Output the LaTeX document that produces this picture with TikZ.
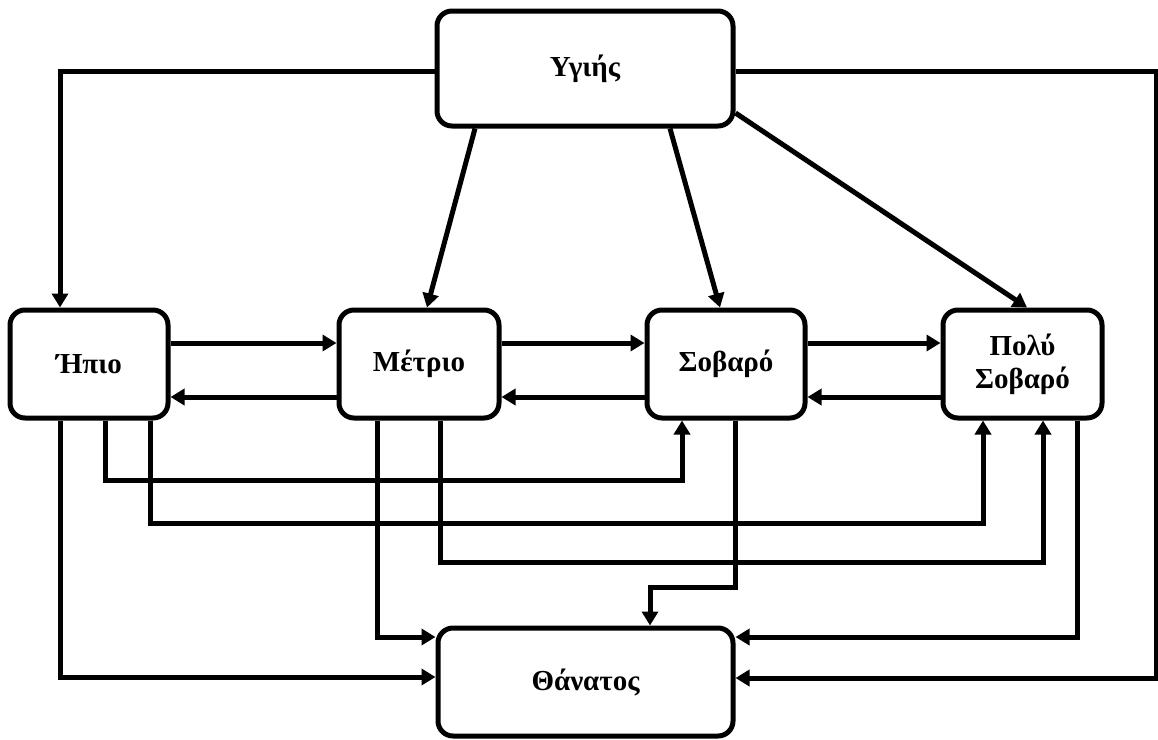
\documentclass[tikz,border=0pt]{standalone}
\usepackage{fontspec}
\setmainfont{Liberation Serif}
\usetikzlibrary{arrows.meta}
\tikzset{
  stbox/.style={draw, line width=5pt, rounded corners=15pt, fill=white,
    font=\fontsize{29}{33}\selectfont\bfseries, align=center, inner sep=0pt},
  conn/.style={line width=5pt, line join=miter, -{Triangle[length=14pt,width=16pt]}}
}
\begin{document}
\begin{tikzpicture}[x=1pt,y=-1pt]
\useasboundingbox (0,0) rectangle (1158,739);
\node[stbox, minimum width=296pt, minimum height=115pt] (H) at (585,68.5) {Υγιής};
\node[stbox, minimum width=158pt, minimum height=108pt] (M1) at (89,364) {Ήπιο};
\node[stbox, minimum width=160pt, minimum height=108pt] (M2) at (419,364) {Μέτριο};
\node[stbox, minimum width=158pt, minimum height=108pt] (S) at (726,364) {Σοβαρό};
\node[stbox, minimum width=159pt, minimum height=108pt] (VS) at (1022.5,364) {Πολύ\\Σοβαρό};
\node[stbox, minimum width=295pt, minimum height=108pt] (D) at (585.5,682) {Θάνατος};

% from healthy
\draw[conn] (H.west |- 0,71) -- (60,71) -- (60,0 |- M1.north);
\draw[conn] (H.east |- 0,71) -- (1156,71) -- (1156,678) -- (D.east |- 0,678);
\draw[conn] (475,0 |- H.south) -- (427,0 |- M2.north);
\draw[conn] (670,0 |- H.south) -- (720,0 |- S.north);
\draw[conn] (H.east |- 0,113) -- (1027,0 |- VS.north);

% row transitions
\draw[conn] (M1.east |- 0,343) -- (M2.west |- 0,343);
\draw[conn] (M2.west |- 0,397) -- (M1.east |- 0,397);
\draw[conn] (M2.east |- 0,343) -- (S.west |- 0,343);
\draw[conn] (S.west |- 0,397) -- (M2.east |- 0,397);
\draw[conn] (S.east |- 0,343) -- (VS.west |- 0,343);
\draw[conn] (VS.west |- 0,397) -- (S.east |- 0,397);

% lower routes
\draw[conn] (105,0 |- M1.south) -- (105,480) -- (682,480) -- (682,0 |- S.south);
\draw[conn] (150,0 |- M1.south) -- (150,523) -- (983,523) -- (983,0 |- VS.south);
\draw[conn] (440,0 |- M2.south) -- (440,562) -- (1043,562) -- (1043,0 |- VS.south);
\draw[conn] (377,0 |- M2.south) -- (377,637) -- (D.west |- 0,637);
\draw[conn] (60,0 |- M1.south) -- (60,677) -- (D.west |- 0,677);
\draw[conn] (735,0 |- S.south) -- (735,587) -- (650,587) -- (650,0 |- D.north);
\draw[conn] (1077,0 |- VS.south) -- (1077,637) -- (D.east |- 0,637);
\end{tikzpicture}
\end{document}
